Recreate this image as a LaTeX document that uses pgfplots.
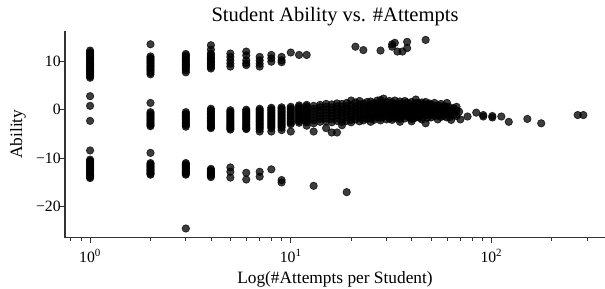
\documentclass[border=0pt]{standalone}
\usepackage{fontspec}
\setmainfont{Liberation Serif}
\usepackage{pgfplots}
\pgfplotsset{compat=1.18}
\begin{document}
\begin{tikzpicture}
\useasboundingbox (-48.75pt,-37.73pt) rectangle (405pt,178.28pt);
\begin{axis}[
 scale only axis, width=405pt, height=155.25pt,
 xmode=log, xmin=0.75, xmax=368, ymin=-26.4, ymax=16.3,
 axis x line*=bottom, axis y line*=left,
 axis line style={line width=0.8pt, color=black!80},
 tick align=outside, major tick length=3.85pt, minor tick length=2.2pt,
 every tick/.style={black!80},
 major tick style={line width=0.8pt}, minor tick style={line width=0.6pt},
 xtick={1,10,100},
 xticklabels={10\textsuperscript{0},10\textsuperscript{1},10\textsuperscript{2}},
 minor xtick={0.8,0.9,2,3,4,5,6,7,8,9,20,30,40,50,60,70,80,90,200,300},
 ytick={-20,-10,0,10}, yticklabels={−20,−10,0,10},
 ticklabel style={font=\fontsize{11.8}{14}\selectfont, inner sep=0pt},
 xticklabel style={anchor=base, yshift=-14.6pt},
 yticklabel style={anchor=east, xshift=0.8pt},
 title={Student Ability vs. \#Attempts},
 title style={font=\fontsize{15.4}{18}\selectfont, at={(axis description cs:0.5,1.004)}, anchor=base, inner sep=0pt},
 xlabel={Log(\#Attempts per Student)}, ylabel={Ability},
 label style={font=\fontsize{13}{15}\selectfont, inner sep=0pt},
 xlabel style={at={(axis description cs:0.5,-0.2235)}, anchor=base},
 ylabel style={at={(axis description cs:-0.0796,0.5)}, anchor=base, rotate=0},
 clip=false,
]
\addplot[only marks, mark=*, mark size=2.8pt,
  mark options={fill=black, draw=black, fill opacity=0.76, draw opacity=0.76, line width=0.5pt}]
coordinates {
(1,12.2)(1,11.6)(1,11.1)(1,10.6)(1,10.1)(1,9.6)(1,9.1)(1,8.6)(1,8.1)(1,7.6)(1,7.1)(1,6.6)
(1,11.85)(1,11.35)(1,10.85)(1,10.35)(1,9.85)(1,9.35)(1,8.85)(1,8.35)(1,7.85)(1,7.35)(1,6.85)
(2,13.5)(2,11.0)(2,10.4)(2,9.8)(2,9.2)(2,8.6)(2,8.0)(2,7.3)
(2,10.7)(2,10.1)(2,9.5)(2,8.9)(2,8.3)(2,7.6)
(3,11.5)(3,10.9)(3,10.3)(3,9.7)(3,9.1)(3,8.5)(3,7.7)
(3,11.2)(3,10.6)(3,10.0)(3,9.4)(3,8.8)(3,8.1)
(4,13.3)(4,12.4)(4,11.6)(4,10.9)(4,10.3)(4,9.7)(4,9.1)(4,8.5)
(4,11.3)(4,10.6)(4,10.0)(4,9.4)(4,8.8)
(5,11.6)(5,10.9)(5,10.2)(5,9.5)(5,8.9)
(6,12.0)(6,11.2)(6,10.2)(6,9.6)(6,9.2)
(7,10.9)(7,10.2)(7,9.5)(7,8.9)
(8,11.3)(8,10.6)(8,9.9)
(9,10.9)(9,10.2)(9,9.8)
(10,11.8)(11,11.3)(12,11.3)
(21,13.0)(23,12.3)(28,12.2)(32,13.5)(32,13.0)(33,13.8)(34,12.0)(36,12.0)(38,14.0)(38,12.7)(47,14.4)
(1,2.8)(1,0.8)(1,-2.3)
(2,1.4)(2,-0.5)(2,-1.1)(2,-1.7)(2,-2.3)(2,-2.9)(2,-3.4)
(2,-0.8)(2,-1.4)(2,-2.0)(2,-2.6)(2,-3.15)
(3,-0.5)(3,-1.1)(3,-1.7)(3,-2.3)(3,-2.9)(3,-3.5)
(3,-0.8)(3,-1.4)(3,-2.0)(3,-2.6)(3,-3.2)
(4,0.2)(4,-0.4)(4,-1.0)(4,-1.6)(4,-2.2)(4,-2.8)(4,-3.4)(4,-3.8)
(4,-0.1)(4,-0.7)(4,-1.3)(4,-1.9)(4,-2.5)(4,-3.1)(4,-3.6)
(5,-0.1)(5,-0.7)(5,-1.3)(5,-1.9)(5,-2.5)(5,-3.1)(5,-3.6)(5,-4.1)
(5,-0.4)(5,-1.0)(5,-1.6)(5,-2.2)(5,-2.8)(5,-3.35)(5,-3.85)
(6,0.0)(6,-0.6)(6,-1.2)(6,-1.8)(6,-2.4)(6,-3.0)(6,-3.6)(6,-4.0)
(6,-0.3)(6,-0.9)(6,-1.5)(6,-2.1)(6,-2.7)(6,-3.3)(6,-3.8)
(7,0.2)(7,-0.4)(7,-1.0)(7,-1.6)(7,-2.2)(7,-2.8)(7,-3.4)(7,-4.0)(7,-4.5)
(7,-0.1)(7,-0.7)(7,-1.3)(7,-1.9)(7,-2.5)(7,-3.1)(7,-3.7)
(8,0.4)(8,-0.2)(8,-0.8)(8,-1.4)(8,-2.0)(8,-2.6)(8,-3.2)(8,-3.8)(8,-4.5)
(8,0.1)(8,-0.5)(8,-1.1)(8,-1.7)(8,-2.3)(8,-2.9)(8,-3.5)
(9,0.5)(9,-0.1)(9,-0.7)(9,-1.3)(9,-1.9)(9,-2.5)(9,-3.1)(9,-3.7)(9,-4.2)
(9,0.2)(9,-0.4)(9,-1.0)(9,-1.6)(9,-2.2)(9,-2.8)(9,-3.4)
(10,0.6)(10,0.0)(10,-0.6)(10,-1.2)(10,-1.8)(10,-2.4)(10,-3.0)(10,-4.5)
(10,0.3)(10,-0.3)(10,-0.9)(10,-1.5)(10,-2.1)(10,-2.7)
(11,0.9)(11,0.3)(11,-0.3)(11,-0.9)(11,-1.5)(11,-2.1)(11,-2.7)
(11,0.6)(11,0.0)(11,-0.6)(11,-1.2)(11,-1.8)(11,-2.4)
(12,1.0)(12,0.4)(12,-0.2)(12,-0.8)(12,-1.4)(12,-2.0)(12,-2.6)(12,-3.3)
(12,0.7)(12,0.1)(12,-0.5)(12,-1.1)(12,-1.7)(12,-2.3)
(13,0.8)(13,0.2)(13,-0.4)(13,-1.0)(13,-1.6)(13,-2.2)(13,-2.8)(13,-4.5)
(14,1.0)(14,0.5)(14,-0.1)(14,-0.7)(14,-1.3)(14,-1.9)(14,-2.5)
(15,1.2)(15,0.6)(15,0.0)(15,-0.6)(15,-1.2)(15,-1.8)(15,-2.4)(15,-3.8)
(16,1.1)(16,0.5)(16,-0.1)(16,-0.7)(16,-1.3)(16,-1.9)(16,-2.6)(16,-4.7)
(17,1.3)(17,0.7)(17,0.1)(17,-0.5)(17,-1.1)(17,-1.7)(17,-2.3)(17,-4.7)
(18,1.2)(18,0.6)(18,0.0)(18,-0.6)(18,-1.2)(18,-1.8)(18,-2.5)(18,-3.2)
(19,1.4)(19,0.8)(19,0.2)(19,-0.4)(19,-1.0)(19,-1.6)(19,-2.3)
(20,1.9)(20,1.0)(20,0.3)(20,-0.3)(20,-0.9)(20,-1.5)(20,-2.1)(20,-2.6)
(21,1.5)(21,0.7)(21,0.0)(21,-0.7)(21,-1.4)(21,-2.0)
(22,1.8)(22,1.1)(22,0.4)(22,-0.3)(22,-1.0)(22,-1.7)(22,-2.4)
(23,1.3)(23,0.5)(23,-0.2)(23,-0.9)(23,-1.6)(23,-2.2)
(24,1.6)(24,0.9)(24,0.2)(24,-0.5)(24,-1.2)(24,-1.9)
(25,1.7)(25,1.0)(25,0.3)(25,-0.4)(25,-1.1)(25,-1.8)(25,-2.5)
(26,1.4)(26,0.6)(26,-0.1)(26,-0.8)(26,-1.5)(26,-2.1)
(27,1.9)(27,1.2)(27,0.5)(27,-0.2)(27,-0.9)(27,-1.6)
(28,2.0)(28,1.1)(28,0.4)(28,-0.3)(28,-1.0)(28,-1.7)(28,-2.2)
(29,2.3)(29,1.5)(29,0.7)(29,0.0)(29,-0.7)(29,-1.4)
(30,1.6)(30,0.8)(30,0.1)(30,-0.6)(30,-1.3)(30,-2.0)
(31,1.8)(31,1.0)(31,0.3)(31,-0.4)(31,-1.1)(31,-1.8)
(32,1.5)(32,0.7)(32,0.0)(32,-0.7)(32,-1.4)(32,-2.1)
(33,1.9)(33,1.1)(33,0.4)(33,-0.3)(33,-1.0)(33,-1.7)
(34,1.3)(34,0.6)(34,-0.1)(34,-0.8)(34,-1.5)
(35,1.7)(35,0.9)(35,0.2)(35,-0.5)(35,-1.2)(35,-1.9)(35,-2.5)
(36,1.4)(36,0.7)(36,0.0)(36,-0.7)(36,-1.4)
(37,1.8)(37,1.0)(37,0.3)(37,-0.4)(37,-1.1)(37,-1.8)
(38,1.5)(38,0.8)(38,0.1)(38,-0.6)(38,-1.3)
(39,1.2)(39,0.5)(39,-0.2)(39,-0.9)(39,-1.6)
(40,1.6)(40,0.9)(40,0.2)(40,-0.5)(40,-1.2)(40,-1.9)(40,-2.4)
(41,1.0)(41,0.3)(41,-0.4)(41,-1.1)(41,-1.8)
(42,2.1)(42,1.3)(42,0.6)(42,-0.1)(42,-0.8)(42,-1.5)
(43,1.4)(43,0.7)(43,0.0)(43,-0.7)(43,-1.4)
(44,1.1)(44,0.4)(44,-0.3)(44,-1.0)(44,-1.7)
(45,1.5)(45,0.8)(45,0.1)(45,-0.6)(45,-1.3)(45,-2.0)
(46,1.2)(46,0.5)(46,-0.2)(46,-0.9)(47,-2.8)
(47,1.6)(47,0.9)(47,0.2)(47,-0.5)(47,-1.2)
(48,1.0)(48,0.3)(48,-0.4)(48,-1.1)(48,-1.7)
(49,1.3)(49,0.6)(49,-0.1)(49,-0.8)
(50,1.1)(50,0.4)(50,-0.3)(50,-1.0)(50,-1.6)
(52,1.4)(52,0.7)(52,0.0)(52,-0.7)(52,-1.3)
(54,0.9)(54,0.2)(54,-0.5)(54,-1.2)(54,-2.0)
(56,1.2)(56,0.5)(56,-0.2)(56,-0.9)(56,-1.5)
(58,0.8)(58,0.1)(58,-0.6)(58,-1.3)
(60,1.4)(60,0.6)(60,-0.1)(60,-0.8)(60,-1.6)
(62,0.5)(62,-0.2)(62,-0.9)(62,-1.5)(63,-2.1)
(65,0.3)(65,-0.4)(65,-1.1)(67,0.6)(67,-0.2)(67,-1.3)
(69,-0.4)(70,-2.0)(76,-1.4)(84,-0.6)(91,-1.1)(91,-1.4)
(101,-1.3)(101,-1.6)(112,-1.4)(122,-2.5)(151,-1.9)(177,-2.8)(269,-1.1)(287,-1.1)
(1,-8.4)(1,-10.3)(1,-10.8)(1,-11.3)(1,-11.8)(1,-12.3)(1,-12.8)(1,-13.3)(1,-13.7)(1,-14.1)
(1,-10.55)(1,-11.05)(1,-11.55)(1,-12.05)(1,-12.55)(1,-13.05)(1,-13.5)(1,-13.9)
(2,-8.9)(2,-11.0)(2,-11.5)(2,-12.0)(2,-12.5)(2,-13.0)(2,-13.4)
(2,-11.25)(2,-11.75)(2,-12.25)(2,-12.75)(2,-13.2)
(3,-11.0)(3,-11.5)(3,-12.0)(3,-12.5)(3,-13.0)(3,-13.4)(3,-24.5)
(3,-11.25)(3,-11.75)(3,-12.25)(3,-12.75)(3,-13.2)
(4,-12.2)(4,-12.7)(4,-13.2)(4,-13.6)(4,-13.9)
(4,-12.45)(4,-12.95)(4,-13.4)
(5,-11.9)(5,-12.8)(5,-14.0)
(6,-13.0)(6,-14.4)
(7,-12.8)(7,-13.8)
(8,-12.3)
(9,-14.5)(9,-15.0)
(13,-15.7)(19,-17.0)
};
\end{axis}
\end{tikzpicture}
\end{document}
